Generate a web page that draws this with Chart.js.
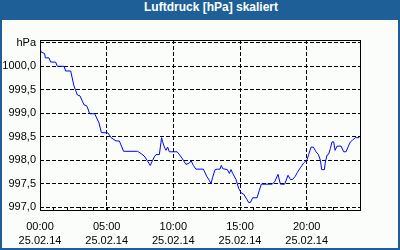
<!DOCTYPE html>
<html>
<head>
<meta charset="utf-8">
<script src="https://cdn.jsdelivr.net/npm/chart.js@4"></script>
<style>
  body { margin: 0; background: #fff; }
  #frame { position: relative; width: 400px; height: 250px; background: #1d5f96; }
  #title { height: 20px; line-height: 20px; color: #fff; font: bold 12px "Liberation Sans", Arial, sans-serif;
           text-align: center; padding-left: 22px; box-sizing: border-box; }
  #inner { position: absolute; left: 2px; top: 20px; width: 396px; height: 228px; background: #fafdfa; }
  canvas { display: block; }
</style>
</head>
<body>
<div id="frame">
  <div id="title">Luftdruck [hPa] skaliert</div>
  <div id="inner"><canvas id="myChart" width="396" height="228"></canvas></div>
</div>
<script>
// hours since 00:00 on 25.02.14 and air pressure
const hours = [0, 0.05, 0.35, 0.4, 0.67, 0.8, 1.17, 1.3, 1.8, 1.92, 2.3, 2.55, 2.67, 2.8, 3.0, 3.17, 3.3, 3.5, 3.6, 3.72,
  4.1, 4.42, 4.6, 5.1, 5.33, 5.7, 5.95, 6.27, 7.32, 7.58, 7.82, 8.03, 8.27, 8.45, 8.57, 8.7, 8.95, 9.12, 9.2, 9.33,
  9.45, 9.57, 9.7, 10.28, 10.45, 10.58, 10.75, 10.95, 11.2, 11.33, 11.5, 11.69, 12.25, 12.5, 12.7, 12.83, 12.95, 13.13,
  13.32, 13.5, 13.6, 13.71, 14.05, 14.2, 14.33, 14.45, 14.7, 14.9, 15.1, 15.27, 15.53, 15.65, 15.78, 15.95, 16.28,
  16.45, 16.6, 17.4, 17.6, 17.85, 18.03, 18.35, 18.6, 18.78, 18.95, 19.15, 19.28, 19.53, 19.77, 20.03, 20.15, 20.33,
  20.5, 20.7, 20.88, 21.03, 21.13, 21.33, 21.4, 21.53, 21.65, 21.78, 21.9, 22.03, 22.13, 22.28, 22.58, 22.78, 22.95,
  23.13, 23.28, 23.45, 23.65, 23.95];
const pressure = [1000.34, 1000.31, 1000.27, 1000.18, 1000.18, 1000.09, 1000.09, 1000.0, 1000.0, 999.9, 999.9, 999.58,
  999.49, 999.39, 999.37, 999.26, 999.18, 999.16, 999.09, 998.99, 998.99, 998.8, 998.59, 998.58, 998.48, 998.41, 998.41,
  998.19, 998.19, 998.14, 998.09, 998.0, 997.89, 998.0, 998.07, 998.12, 998.12, 998.48, 998.39, 998.28, 998.21, 998.28,
  998.18, 998.18, 998.12, 998.07, 998.0, 997.91, 997.94, 997.99, 997.89, 997.81, 997.81, 997.66, 997.57, 997.5, 997.64,
  997.8, 997.81, 997.81, 997.89, 997.82, 997.8, 997.72, 997.8, 997.72, 997.59, 997.4, 997.3, 997.28, 997.16, 997.1,
  997.1, 997.2, 997.2, 997.36, 997.49, 997.49, 997.54, 997.7, 997.49, 997.49, 997.68, 997.59, 997.59, 997.66, 997.73,
  997.84, 997.94, 998.01, 998.12, 998.28, 998.28, 998.18, 998.12, 998.0, 997.8, 997.8, 997.96, 998.11, 998.13, 998.25,
  998.39, 998.39, 998.21, 998.3, 998.3, 998.18, 998.18, 998.3, 998.39, 998.43, 998.48, 998.48];

// axis ticks
const xTicks = [0, 5, 10, 15, 20];
const xTimeLabels = ['00:00', '05:00', '10:00', '15:00', '20:00'];
const xDateLabel = '25.02.14';
const yTicks = [997.0, 997.5, 998.0, 998.5, 999.0, 999.5, 1000.0, 1000.5];
const yLabels = ['997,0', '997,5', '998,0', '998,5', '999,0', '999,5', '1000,0', 'hPa'];

const font = { family: '"Liberation Sans", Arial, sans-serif', size: 11 };

// solid frame around the plot and small hour ticks on the bottom axis
const framePlugin = {
  id: 'frame',
  afterDraw(chart) {
    const { ctx, chartArea: a, scales } = chart;
    ctx.save();
    ctx.strokeStyle = '#000';
    ctx.lineWidth = 1;
    ctx.setLineDash([]);
    ctx.strokeRect(a.left + 0.5, a.top + 0.5, a.right - a.left, a.bottom - a.top);
    ctx.beginPath();
    for (let h = 1; h < 24; h++) {
      const x = Math.round(scales.x.getPixelForValue(h)) + 0.5;
      ctx.moveTo(x, a.bottom);
      ctx.lineTo(x, a.bottom - 3);
    }
    ctx.stroke();
    ctx.restore();
  }
};

const ctx = document.getElementById('myChart').getContext('2d');
new Chart(ctx, {
  type: 'line',
  data: {
    datasets: [{
      data: hours.map((h, i) => ({ x: h, y: pressure[i] })),
      borderColor: '#0000ff',
      borderWidth: 1,
      pointRadius: 0,
      tension: 0,
      fill: false
    }]
  },
  options: {
    responsive: false,
    animation: false,
    layout: { padding: { left: 0, top: 20, right: 38, bottom: 0 } },
    plugins: { legend: { display: false }, tooltip: { enabled: false } },
    scales: {
      x: {
        type: 'linear',
        min: 0,
        max: 24,
        afterBuildTicks: (s) => { s.ticks = xTicks.map(v => ({ value: v })); },
        afterFit: (s) => { s.height = 38; },
        grid: {
          color: (c) => (c.tick && c.tick.value > 0 ? '#000' : 'transparent'),
          drawTicks: false,
          lineWidth: 1
        },
        border: { display: false, dash: [4, 2] },
        ticks: {
          color: '#000',
          font: { ...font, lineHeight: 1.27 },
          padding: 10,
          maxRotation: 0,
          autoSkip: false,
          callback: (v) => {
            const i = xTicks.indexOf(v);
            return i < 0 ? '' : [xTimeLabels[i], xDateLabel];
          }
        }
      },
      y: {
        min: 996.94,
        max: 1000.56,
        afterBuildTicks: (s) => { s.ticks = yTicks.map(v => ({ value: v })); },
        afterFit: (s) => { s.width = 38; },
        grid: { color: '#000', drawTicks: false, lineWidth: 1 },
        border: { display: false, dash: [4, 2] },
        ticks: {
          color: '#000',
          font: font,
          padding: 4,
          autoSkip: false,
          callback: (v) => {
            const i = yTicks.findIndex(t => Math.abs(t - v) < 1e-6);
            return i < 0 ? '' : yLabels[i];
          }
        }
      }
    }
  },
  plugins: [framePlugin]
});
</script>
</body>
</html>
